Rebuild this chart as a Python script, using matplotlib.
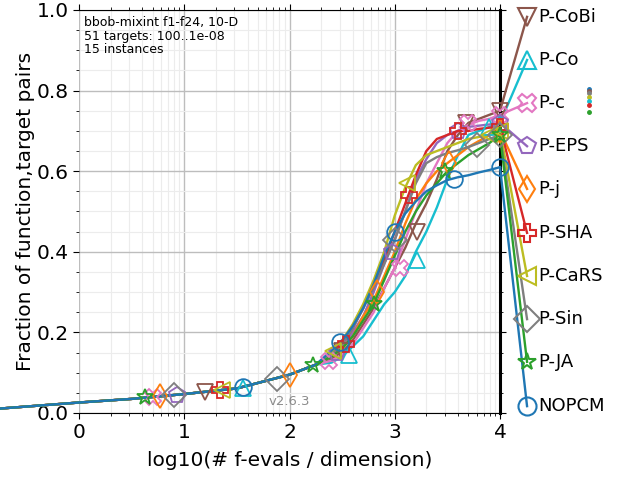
import numpy as np
import matplotlib
matplotlib.use("Agg")
import matplotlib.pyplot as plt
from matplotlib.ticker import FixedLocator, FuncFormatter, MultipleLocator

# ---------------- data (log10 of #f-evals / dimension, fraction) ----------------
x_grid = [-0.75, 0, 0.5, 1, 1.5, 2, 2.25,
          2.4, 2.5, 2.6, 2.7, 2.8, 2.9, 3.0, 3.1, 3.2, 3.3, 3.4, 3.5, 3.6, 3.7, 3.8, 3.9, 4.0]
start = [0.011, 0.026, 0.035, 0.047, 0.061, 0.095, 0.12]

algs = ["P-CoBi", "P-Co", "P-c", "P-EPS", "P-j", "P-SHA", "P-CaRS", "P-Sin", "P-JA", "NOPCM"]
colors = ["tab:brown", "tab:cyan", "tab:pink", "tab:purple", "tab:orange",
          "tab:red", "tab:olive", "tab:gray", "tab:green", "tab:blue"]
markers = ["v", "^", "X", "p", "d", "P", "<", "D", "*", "o"]

tails = {
    "NOPCM":  [.155, .18, .215, .26, .32, .39, .45, .495, .525, .55, .565, .578, .585, .59, .597, .603, .61],
    "P-j":    [.14, .16, .19, .24, .28, .34, .40, .47, .53, .57, .60, .62, .64, .66, .675, .69, .70],
    "P-JA":   [.14, .16, .19, .23, .27, .33, .39, .45, .50, .54, .57, .60, .62, .64, .655, .67, .69],
    "P-SHA":  [.145, .17, .21, .26, .32, .38, .45, .52, .59, .65, .68, .69, .70, .70, .705, .708, .71],
    "P-EPS":  [.14, .16, .20, .24, .30, .37, .43, .50, .58, .63, .67, .69, .70, .71, .713, .716, .72],
    "P-CoBi": [.135, .15, .18, .22, .26, .31, .36, .41, .47, .52, .58, .65, .69, .72, .73, .74, .75],
    "P-c":    [.13, .145, .17, .21, .25, .31, .36, .43, .50, .57, .62, .67, .70, .715, .725, .73, .74],
    "P-Sin":  [.145, .17, .21, .26, .31, .37, .43, .50, .57, .62, .635, .645, .652, .66, .67, .68, .69],
    "P-CaRS": [.15, .18, .22, .27, .33, .40, .49, .56, .615, .64, .65, .66, .67, .68, .685, .69, .70],
    "P-Co":   [.125, .14, .165, .19, .23, .27, .30, .34, .40, .45, .51, .58, .64, .69, .70, .71, .72],
}

marker_x = {
    "NOPCM":  [1.56, 2.48, 3.0, 3.56, 4.0],
    "P-j":    [0.77, 2.0, 2.83, 3.52, 4.0],
    "P-JA":   [0.63, 2.22, 2.8, 3.48, 4.0],
    "P-SHA":  [1.34, 2.54, 3.14, 3.6, 4.0],
    "P-EPS":  [0.93, 2.45, 2.97, 3.6, 4.0],
    "P-CoBi": [1.2, 2.5, 3.21, 3.68, 4.0],
    "P-c":    [0.70, 2.38, 3.05, 3.70, 4.0],
    "P-Sin":  [0.9, 1.88, 3.0, 3.78, 4.0],
    "P-CaRS": [1.36, 2.41, 3.12, 3.9, 4.0],
    "P-Co":   [1.56, 2.57, 3.21, 3.9, 4.0],
}
marker_y = {
    "NOPCM":  [0.065, 0.175, 0.45, 0.58, 0.61],
    "P-j":    [0.042, 0.095, 0.30, 0.62, 0.70],
    "P-JA":   [0.040, 0.118, 0.27, 0.60, 0.69],
    "P-SHA":  [0.057, 0.17, 0.54, 0.70, 0.71],
    "P-EPS":  [0.045, 0.15, 0.40, 0.70, 0.72],
    "P-CoBi": [0.052, 0.155, 0.45, 0.72, 0.75],
    "P-c":    [0.040, 0.13, 0.36, 0.72, 0.74],
    "P-Sin":  [0.045, 0.085, 0.43, 0.665, 0.69],
    "P-CaRS": [0.058, 0.155, 0.57, 0.69, 0.70],
    "P-Co":   [0.062, 0.145, 0.38, 0.71, 0.72],
}

label_y = [0.983, 0.876, 0.769, 0.662, 0.556, 0.447, 0.340, 0.233, 0.127, 0.017]

dot_algs = ["NOPCM", "P-CoBi", "P-Sin", "P-CaRS", "P-Co", "P-SHA", "P-JA"]
dot_y = [0.804, 0.799, 0.794, 0.784, 0.774, 0.764, 0.747]

# ---------------- figure ----------------
fig = plt.figure(figsize=(6.4, 4.8), dpi=100)
ax = fig.add_axes([79 / 640, 67 / 480, 421 / 640, 403 / 480])
ax.set_xscale("log")
ax.set_xlim(1, 1e4)
ax.set_ylim(0, 1)

lab_x = 10 ** 4.257
text_x = 10 ** 4.36
for name, col, mk, ly in zip(algs, colors, markers, label_y):
    xs = 10 ** np.array(x_grid)
    ys = start + tails[name]
    ax.plot(xs, ys, color=col, lw=1.7, clip_on=False, zorder=3)
    ax.plot(10 ** np.array(marker_x[name]), marker_y[name], ls="none", marker=mk,
            ms=12, mfc="none", mec=col, mew=1.3, clip_on=False, zorder=4)
    ax.plot([1e4, lab_x], [tails[name][-1], ly], color=col, lw=1.7, clip_on=False, zorder=3)
    ax.plot([lab_x], [ly], ls="none", marker=mk, ms=13, mfc="none", mec=col,
            mew=1.5, clip_on=False, zorder=4)
    ax.text(text_x, ly, name, fontsize=13, va="center", ha="left", clip_on=False)

col_of = dict(zip(algs, colors))
for name, dy in zip(dot_algs, dot_y):
    ax.plot([10 ** 4.85], [dy], ls="none", marker="o", ms=2.5, color=col_of[name],
            clip_on=False, zorder=4)

# axes styling
ax.xaxis.set_major_locator(FixedLocator([1, 10, 100, 1000, 10000]))
ax.xaxis.set_major_formatter(FuncFormatter(lambda v, p: "%d" % round(np.log10(v))))
ax.yaxis.set_major_locator(MultipleLocator(0.2))
ax.yaxis.set_minor_locator(MultipleLocator(0.05))
ax.yaxis.set_major_formatter(FuncFormatter(lambda v, p: "%.1f" % v))
ax.tick_params(axis="both", which="major", labelsize=14.5, length=4, direction="out",
               top=True, right=True)
ax.tick_params(axis="both", which="minor", length=2.5, direction="out", top=True, right=True)
ax.grid(True, which="major", color="#bdbdbd", lw=1.0)
ax.grid(True, which="minor", color="#ececec", lw=0.8)
ax.set_axisbelow(True)
ax.spines["left"].set_visible(False)
ax.spines["right"].set_linewidth(2.2)

ax.set_xlabel("log10(# f-evals / dimension)", fontsize=14.5, labelpad=6)
ax.set_ylabel("Fraction of function,target pairs", fontsize=14.5, labelpad=1)

ax.text(0.012, 0.985, "bbob-mixint f1-f24, 10-D\n51 targets: 100..1e-08\n15 instances",
        transform=ax.transAxes, fontsize=9, va="top", ha="left", linespacing=1.05)
ax.text(0.55, 0.012, "v2.6.3", transform=ax.transAxes, fontsize=9.5, color="#8c8c8c",
        ha="right", va="bottom")

fig.savefig("out.png", dpi=100)
